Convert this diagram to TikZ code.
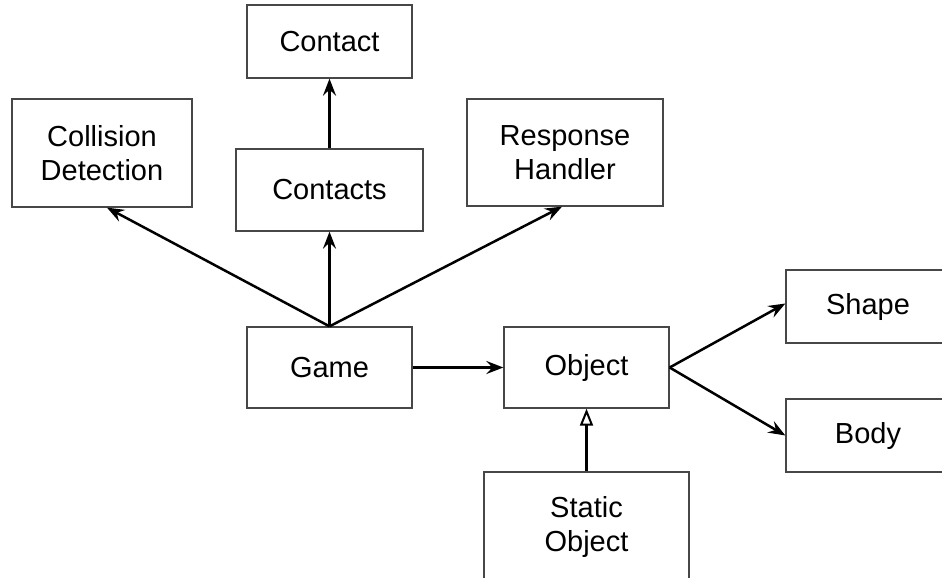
\documentclass[tikz,border=0pt]{standalone}
\usepackage{fontspec}
\setmainfont{Liberation Sans}
\usetikzlibrary{arrows.meta}
\begin{document}
\begin{tikzpicture}[x=1pt,y=-1pt,
  box/.style={draw=black!72, line width=1.3pt, rectangle, align=center,
    inner sep=0pt, font=\fontsize{29}{34}\selectfont},
  link/.style={line width=2.5pt,
    -{Stealth[length=17pt,width=13pt,inset=6pt]}},
  inherit/.style={line width=2.5pt,
    -{Triangle[open,length=17pt,width=13pt,line width=2pt]}}]
  \useasboundingbox (0,0) rectangle (942,578);

  % classes
  \node[box, minimum width=165pt, minimum height=73pt]  (contact)  at (329.5,41.5) {Contact};
  \node[box, minimum width=180pt, minimum height=108pt] (coll)     at (102,153)    {Collision\\Detection};
  \node[box, minimum width=187pt, minimum height=82pt]  (contacts) at (329.5,190)  {Contacts};
  \node[box, minimum width=196pt, minimum height=107pt] (resp)     at (565,152.5)  {Response\\Handler};
  \node[box, minimum width=165pt, minimum height=81pt]  (game)     at (329.5,367.5){Game};
  \node[box, minimum width=165pt, minimum height=81pt]  (object)   at (586.5,367.5){Object};
  \node[box, minimum width=164pt, minimum height=73pt]  (shape)    at (868,306.5)  {Shape};
  \node[box, minimum width=164pt, minimum height=73pt]  (body)     at (868,435.5)  {Body};
  \node[box, minimum width=205pt, minimum height=110pt] (static)   at (586.5,527)  {Static\\Object};

  % associations
  \draw[link] (game.north) -- ([xshift=5pt]coll.south);
  \draw[link] (game.north) -- (contacts.south);
  \draw[link] (game.north) -- ([xshift=-3pt]resp.south);
  \draw[link] (contacts.north) -- (contact.south);
  \draw[link] (game.east) -- (object.west);
  \draw[link] (object.east) -- ([yshift=3pt]shape.west);
  \draw[link] (object.east) -- (body.west);

  % inheritance
  \draw[inherit] (static.north) -- (object.south);
\end{tikzpicture}
\end{document}
